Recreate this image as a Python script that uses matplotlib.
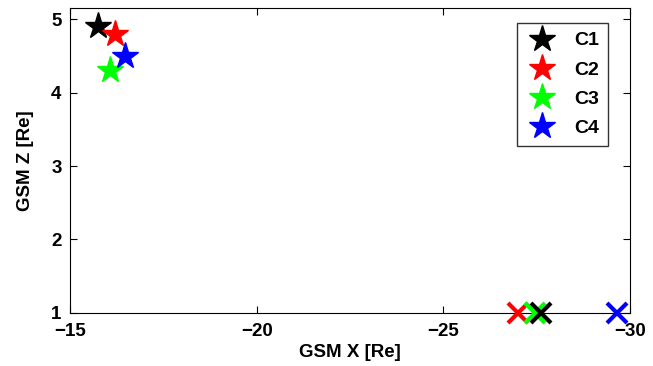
import numpy as np
import matplotlib.pyplot as plt

plt.rcParams['font.family'] = 'Liberation Sans'
plt.rcParams['font.weight'] = 'bold'

labels = ['C1', 'C2', 'C3', 'C4']
colors = ['#000000', '#ff0000', '#00ff00', '#0000ff']
star_x = [-15.75, -16.2, -16.07, -16.47]
star_z = [4.9, 4.8, 4.3, 4.5]
cross_x = [-27.62, -27.0, -27.46, -29.65]
cross_z = [1.0, 1.0, 1.0, 1.0]

fig = plt.figure(figsize=(6.53, 3.66), dpi=100)
ax = fig.add_axes([0.107, 0.145, 0.858, 0.833])

# crosses drawn in order red, green, black, blue so black sits on green
for i in [1, 2, 0, 3]:
    ax.plot(cross_x[i], cross_z[i], 'x', color=colors[i], markersize=15, mew=3, clip_on=False, zorder=3)

for i in range(4):
    ax.plot(star_x[i], star_z[i], '*', color=colors[i], markersize=20, mec=colors[i], label=labels[i], zorder=4)

ax.set_xlim(-15, -30)
ax.set_ylim(1, 5.15)
ax.set_xticks([-15, -20, -25, -30])
ax.set_xticklabels(['\u221215', '\u221220', '\u221225', '\u221230'])
ax.set_yticks([1, 2, 3, 4, 5])
ax.tick_params(direction='in', labelsize=13.5, length=5, top=True, right=True)
ax.tick_params(axis='x', pad=7)
ax.tick_params(axis='y', pad=6)
ax.set_xlabel('GSM X [Re]', fontsize=13.5, fontweight='bold', labelpad=3)
ax.set_ylabel('GSM Z [Re]', fontsize=13.5, fontweight='bold', labelpad=12)

leg = ax.legend(loc='upper right', bbox_to_anchor=(0.961, 0.951), fontsize=14, frameon=True,
                fancybox=False, edgecolor='black', markerscale=1.0, handlelength=1.6,
                labelspacing=0.6, borderpad=0.45, handletextpad=0.9, borderaxespad=0)
leg.get_frame().set_linewidth(1.0)

fig.savefig('out.png', dpi=100)
